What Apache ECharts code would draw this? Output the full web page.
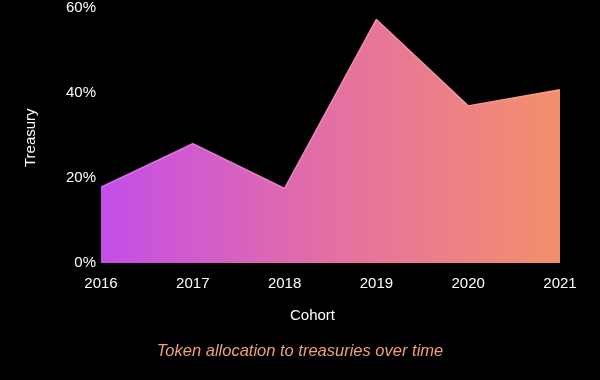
<!DOCTYPE html>
<html>
<head>
<meta charset="utf-8">
<script src="https://cdn.jsdelivr.net/npm/echarts@6/dist/echarts.min.js"></script>
<style>
html,body{margin:0;padding:0;background:#000;}
#c{width:600px;height:380px;}
</style>
</head>
<body>
<div id="c"></div>
<script>
const categories = ['2016', '2017', '2018', '2019', '2020', '2021'];
const treasuryPct = [17.8, 28.0, 17.5, 57.2, 36.9, 40.7];
const yTicks = [0, 20, 40, 60];

const chart = echarts.init(document.getElementById('c'), null, {renderer: 'canvas'});
const font = 'Helvetica, "Liberation Sans", Arial, sans-serif';
chart.setOption({
  backgroundColor: '#000',
  animation: false,
  grid: {left: 101, right: 40, top: 6, bottom: 117},
  title: {
    text: 'Token allocation to treasuries over time',
    left: 'center', top: 338,
    textStyle: {color: '#f0a07a', fontStyle: 'italic', fontWeight: 'normal', fontSize: 16.5, fontFamily: font}
  },
  xAxis: {
    type: 'category', data: categories, boundaryGap: false,
    name: 'Cohort', nameLocation: 'middle', nameGap: 45,
    nameTextStyle: {color: '#fff', fontSize: 15, fontFamily: font, padding: [0, 36, 0, 0]},
    axisLine: {show: false}, axisTick: {show: false},
    axisLabel: {color: '#fff', fontSize: 15, margin: 13, fontFamily: font}
  },
  yAxis: {
    type: 'value', min: yTicks[0], max: yTicks[yTicks.length - 1], interval: 20,
    name: 'Treasury', nameLocation: 'middle', nameGap: 63, nameRotate: 90,
    nameTextStyle: {color: '#fff', fontSize: 15, fontFamily: font, padding: [0, 5, 0, 0]},
    axisLine: {show: false}, axisTick: {show: false}, splitLine: {show: false},
    axisLabel: {color: '#fff', fontSize: 15, margin: 5, fontFamily: font, formatter: v => v + '%'}
  },
  series: [{
    type: 'line', data: treasuryPct, symbol: 'none',
    lineStyle: {width: 1.5, color: new echarts.graphic.LinearGradient(0, 0, 1, 0, [
      {offset: 0, color: '#d46af0'}, {offset: 0.55, color: '#f08ab0'}, {offset: 1, color: '#f8a07c'}
    ])},
    areaStyle: {opacity: 1, color: new echarts.graphic.LinearGradient(0, 0, 1, 0, [
      {offset: 0, color: '#c44ee8'}, {offset: 0.5, color: '#e46fa3'}, {offset: 1, color: '#f3906c'}
    ])}
  }]
});
</script>
</body>
</html>
